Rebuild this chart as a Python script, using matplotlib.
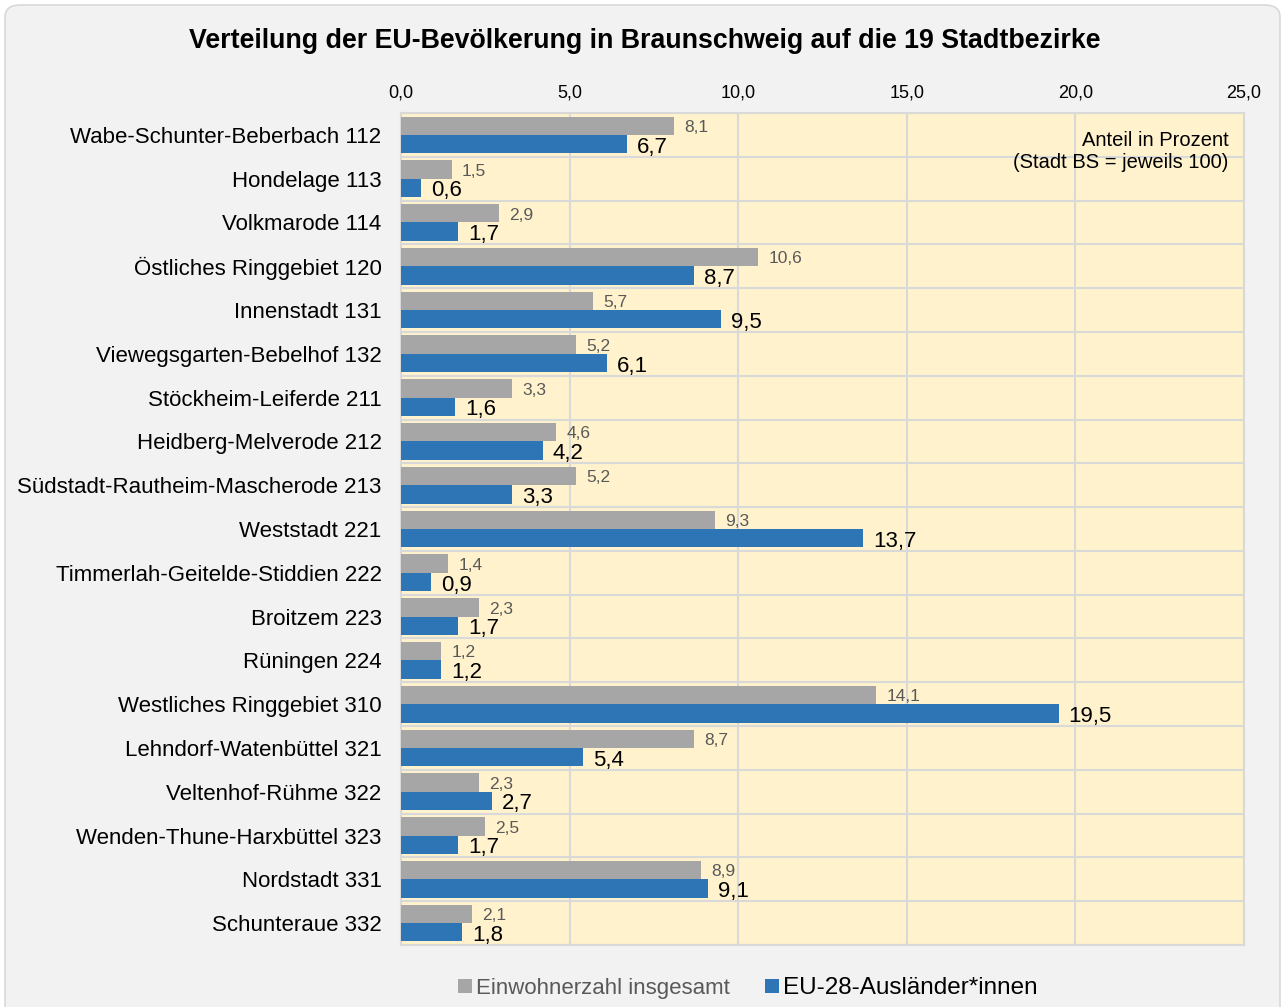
import matplotlib
matplotlib.use("Agg")
import matplotlib.pyplot as plt
from matplotlib.patches import FancyBboxPatch
import numpy as np

plt.rcParams['font.family'] = ['Liberation Sans', 'DejaVu Sans']

categories = ["Wabe-Schunter-Beberbach 112", "Hondelage 113", "Volkmarode 114",
              "Östliches Ringgebiet 120", "Innenstadt 131", "Viewegsgarten-Bebelhof 132",
              "Stöckheim-Leiferde 211", "Heidberg-Melverode 212", "Südstadt-Rautheim-Mascherode 213",
              "Weststadt 221", "Timmerlah-Geitelde-Stiddien 222", "Broitzem 223", "Rüningen 224",
              "Westliches Ringgebiet 310", "Lehndorf-Watenbüttel 321", "Veltenhof-Rühme 322",
              "Wenden-Thune-Harxbüttel 323", "Nordstadt 331", "Schunteraue 332"]
gesamt = [8.1, 1.5, 2.9, 10.6, 5.7, 5.2, 3.3, 4.6, 5.2, 9.3, 1.4, 2.3, 1.2, 14.1, 8.7, 2.3, 2.5, 8.9, 2.1]
eu28 = [6.7, 0.6, 1.7, 8.7, 9.5, 6.1, 1.6, 4.2, 3.3, 13.7, 0.9, 1.7, 1.2, 19.5, 5.4, 2.7, 1.7, 9.1, 1.8]
xticks = [0, 5, 10, 15, 20, 25]
series_names = ["Einwohnerzahl insgesamt", "EU-28-Ausländer*innen"]
title = "Verteilung der EU-Bevölkerung in Braunschweig auf die 19 Stadtbezirke"
note = "Anteil in Prozent\n(Stadt BS = jeweils 100)"

W, H = 1282, 1007
fig = plt.figure(figsize=(W/100, H/100), dpi=100)
fig.patch.set_facecolor('white')
bg = FancyBboxPatch((5/W, -30/H), 1275/W, (1002+30)/H, boxstyle="round,pad=0,rounding_size=0.012",
                    transform=fig.transFigure, facecolor='#f2f2f2', edgecolor='#d9d9d9',
                    linewidth=1.2, zorder=-10)
fig.patches.append(bg)

ax = fig.add_axes([401/W, 1-945/H, (1244-401)/W, (945-113)/H])
ax.set_facecolor('#fff2cc')
n = len(categories)
y = np.arange(n)
bh = 0.42
gray = '#a6a6a6'
blue = '#2e75b6'
ax.barh(y - bh/2, gesamt, height=bh, color=gray, zorder=3, label=series_names[0])
ax.barh(y + bh/2, eu28, height=bh, color=blue, zorder=3, label=series_names[1])

for i in range(n):
    ax.text(gesamt[i] + 0.3, y[i] - bh/2 + 0.04, f"{gesamt[i]:.1f}".replace('.', ','),
            va='center', ha='left', fontsize=12.5, color='#595959', zorder=4)
    ax.text(eu28[i] + 0.3, y[i] + bh/2 + 0.07, f"{eu28[i]:.1f}".replace('.', ','),
            va='center', ha='left', fontsize=16, color='black', zorder=4)

ax.set_xlim(0, 25)
ax.set_ylim(n - 0.5, -0.5)
ax.set_xticks(xticks)
ax.set_xticklabels([f"{v:.1f}".replace('.', ',') for v in xticks], fontsize=13)
ax.xaxis.tick_top()
ax.tick_params(axis='x', length=0, pad=8)
ax.set_yticks(y)
ax.set_yticklabels(categories, fontsize=16)
ax.tick_params(axis='y', length=0, pad=14)
ax.set_yticks(np.arange(n + 1) - 0.5, minor=True)
ax.tick_params(axis='y', which='minor', length=0)
ax.grid(axis='x', color='#d9d9d9', linewidth=1.5, zorder=1)
ax.grid(axis='y', which='minor', color='#d9d9d9', linewidth=1.5, zorder=1)
ax.grid(axis='y', which='major', visible=False)
ax.set_axisbelow(True)
for s in ax.spines.values():
    s.set_color('#d9d9d9')
    s.set_linewidth(1.5)

ax.text(0.982, 0.978, note, transform=ax.transAxes, ha='right', va='top', fontsize=14.5,
        color='black', linespacing=1.15, zorder=5)

fig.text(645/W, 1-41/H, title, ha='center', va='center', fontsize=19.3, fontweight='bold')

leg = fig.legend(loc='center', bbox_to_anchor=(748/W, 1-988/H), ncol=2, frameon=False,
                 fontsize=16, handlelength=0.6, handleheight=0.6, handletextpad=0.2,
                 columnspacing=1.6, labelcolor=['#595959', 'black'])
leg.get_texts()[1].set_fontsize(17.5)

fig.savefig('out.png', dpi=100, facecolor=fig.get_facecolor())
